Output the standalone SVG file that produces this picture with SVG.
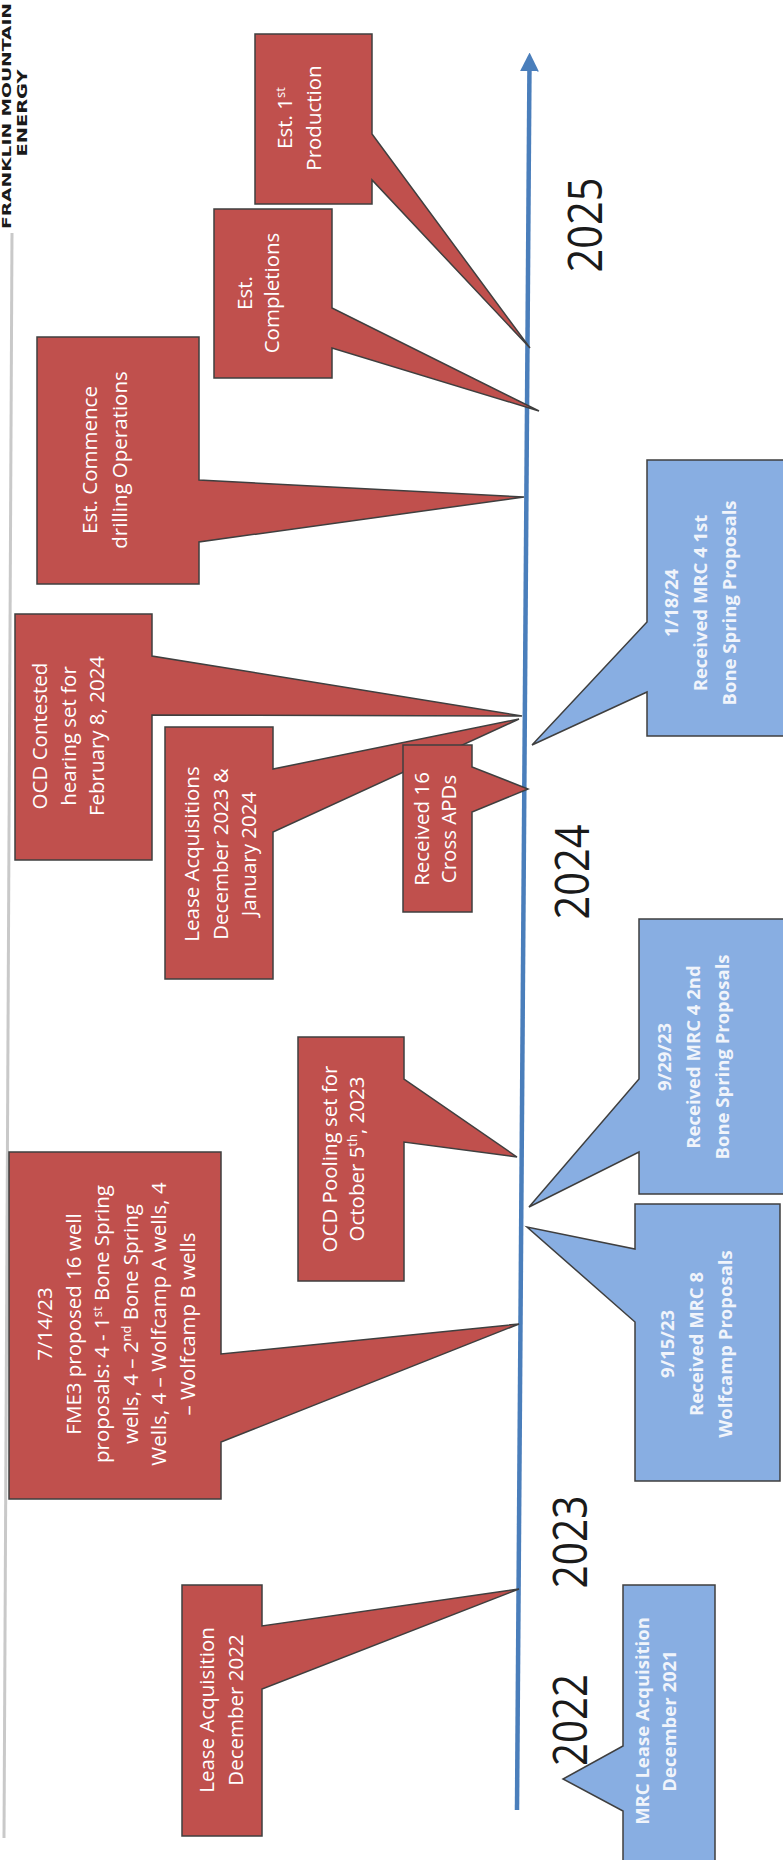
<svg xmlns="http://www.w3.org/2000/svg" width="783" height="1860" viewBox="0 0 783 1860">
<style>
.red{fill:#c0504d;stroke:#3f3f3f;stroke-width:1.5;stroke-linejoin:miter}
.blue{fill:#88aee2;stroke:#3f3f3f;stroke-width:1.5;stroke-linejoin:miter}
.rt{font-family:"Open Sans","Liberation Sans",sans-serif;font-size:20.5px;fill:#ffffff;text-anchor:middle}
.bt{font-family:"Open Sans","Liberation Sans",sans-serif;font-size:18.5px;font-weight:bold;fill:#f0f4fb;text-anchor:middle}
.yr{font-family:"Open Sans","Liberation Sans",sans-serif;font-size:48px;fill:#1a1a1a;text-anchor:middle}
.logo{font-family:"DejaVu Sans","Liberation Sans",sans-serif;font-weight:bold;fill:#1a1a1a;text-anchor:middle}
.sup{font-size:13px}
</style>
<defs>
<marker id="ah" viewBox="0 0 10 10" refX="5" refY="5" markerWidth="4.2" markerHeight="4.2" orient="auto">
<path d="M0,0 L10,5 L0,10 Z" fill="#4a7ebb"/>
</marker>
</defs>
<rect width="783" height="1860" fill="#ffffff"/>

<g id="logo">
<line x1="12" y1="233" x2="4" y2="1838" stroke="#c9c9c9" stroke-width="3"/>
<text class="logo" font-size="12" transform="translate(10.5,116) rotate(-90)" textLength="226" lengthAdjust="spacingAndGlyphs">FRANKLIN MOUNTAIN</text>
<text class="logo" font-size="13.5" transform="translate(26.5,113) rotate(-90)" textLength="87" lengthAdjust="spacingAndGlyphs">ENERGY</text>
</g>

<g id="connectors">
<line x1="517" y1="1810" x2="529.5" y2="62" stroke="#4a7ebb" stroke-width="4.5" marker-end="url(#ah)"/>
</g>

<g id="n-est-production">
<path class="red" d="M255,34 H372 V134 L530,348 L372,180 V204 H255 Z"/>
<g class="rt" transform="translate(292,118) rotate(-90)"><text x="0" y="0">Est. 1<tspan class="sup" dy="-7">st</tspan></text><text x="0" y="29">Production</text></g>
</g>

<g id="n-est-completions">
<path class="red" d="M214,209 H332 V308 L539,411 L332,348 V378 H214 Z"/>
<g class="rt" transform="translate(252,293) rotate(-90)"><text x="0" y="0">Est.</text><text x="0" y="27">Completions</text></g>
</g>

<g id="n-est-commence">
<path class="red" d="M37,337 H199 V480 L524,497 L199,542 V584 H37 Z"/>
<g class="rt" transform="translate(97,460) rotate(-90)"><text x="0" y="0">Est. Commence</text><text x="0" y="30">drilling Operations</text></g>
</g>

<g id="n-ocd-contested">
<path class="red" d="M15,614 H152 V656 L522,716 L152,715 V860 H15 Z"/>
<g class="rt" transform="translate(47,736) rotate(-90)"><text x="0" y="0">OCD Contested</text><text x="0" y="28.5">hearing set for</text><text x="0" y="57">February 8, 2024</text></g>
</g>

<g id="n-lease-2023-2024">
<path class="red" d="M165,727 H273 V769 L519,719 L273,832 V979 H165 Z"/>
<g class="rt" transform="translate(199,854) rotate(-90)"><text x="0" y="0">Lease Acquisitions</text><text x="0" y="28.5">December 2023 &amp;</text><text x="0" y="57">January 2024</text></g>
</g>

<g id="n-received-apds">
<path class="red" d="M403,745 H472 V767 L528,789 L472,812 V912 H403 Z"/>
<g class="rt" transform="translate(429,829) rotate(-90)"><text x="0" y="0">Received 16</text><text x="0" y="27">Cross APDs</text></g>
</g>

<g id="n-ocd-pooling">
<path class="red" d="M298,1037 H404 V1079 L517,1157 L404,1142 V1281 H298 Z"/>
<g class="rt" transform="translate(337,1159) rotate(-90)"><text x="0" y="0">OCD Pooling set for</text><text x="0" y="27">October 5<tspan class="sup" dy="-7">th</tspan><tspan dy="7">, 2023</tspan></text></g>
</g>

<g id="n-fme3-proposals">
<path class="red" d="M9,1152 H221 V1354 L519,1324 L221,1442 V1499 H9 Z"/>
<g class="rt" transform="translate(52,1324) rotate(-90)">
<text x="0" y="0">7/14/23</text>
<text x="0" y="28.5">FME3 proposed 16 well</text>
<text x="0" y="57">proposals: 4 - 1<tspan class="sup" dy="-7">st</tspan><tspan dy="7"> Bone Spring</tspan></text>
<text x="0" y="85.5">wells, 4 – 2<tspan class="sup" dy="-7">nd</tspan><tspan dy="7"> Bone Spring</tspan></text>
<text x="0" y="114">Wells, 4 – Wolfcamp A wells, 4</text>
<text x="0" y="142.5">– Wolfcamp B wells</text>
</g>
</g>

<g id="n-lease-2022">
<path class="red" d="M182,1585 H262 V1626 L519,1589 L262,1689 V1836 H182 Z"/>
<g class="rt" transform="translate(214,1710) rotate(-90)"><text x="0" y="0">Lease Acquisition</text><text x="0" y="29">December 2022</text></g>
</g>

<g id="n-mrc-1st-bone">
<path class="blue" d="M647,460 H786 V736 H647 V692 L532,745 L647,622 Z"/>
<g class="bt" transform="translate(677.5,603) rotate(-90)"><text x="0" y="0">1/18/24</text><text x="0" y="29">Received MRC 4 1st</text><text x="0" y="58">Bone Spring Proposals</text></g>
</g>

<g id="n-mrc-2nd-bone">
<path class="blue" d="M639,919 H786 V1194 H639 V1152 L529,1207 L639,1079 Z"/>
<g class="bt" transform="translate(670.5,1057) rotate(-90)"><text x="0" y="0">9/29/23</text><text x="0" y="29">Received MRC 4 2nd</text><text x="0" y="58">Bone Spring Proposals</text></g>
</g>

<g id="n-mrc-wolfcamp">
<path class="blue" d="M635,1204 H780 V1481 H635 V1322 L527,1227 L635,1249 Z"/>
<g class="bt" transform="translate(673.5,1344) rotate(-90)"><text x="0" y="0">9/15/23</text><text x="0" y="29">Received MRC 8</text><text x="0" y="58">Wolfcamp Proposals</text></g>
</g>

<g id="n-mrc-lease-2021">
<path class="blue" d="M623,1585 H715 V1870 H623 V1811 L563,1779 L623,1746 Z"/>
<g class="bt" transform="translate(648.5,1721) rotate(-90)"><text x="0" y="0">MRC Lease Acquisition</text><text x="0" y="27">December 2021</text></g>
</g>

<g id="years">
<text class="yr" transform="translate(602,225) rotate(-90)" textLength="95" lengthAdjust="spacingAndGlyphs">2025</text>
<text class="yr" transform="translate(589,872) rotate(-90)" textLength="95" lengthAdjust="spacingAndGlyphs">2024</text>
<text class="yr" transform="translate(587,1542) rotate(-90)" textLength="93" lengthAdjust="spacingAndGlyphs">2023</text>
<text class="yr" transform="translate(587,1720) rotate(-90)" textLength="92" lengthAdjust="spacingAndGlyphs">2022</text>
</g>
</svg>
